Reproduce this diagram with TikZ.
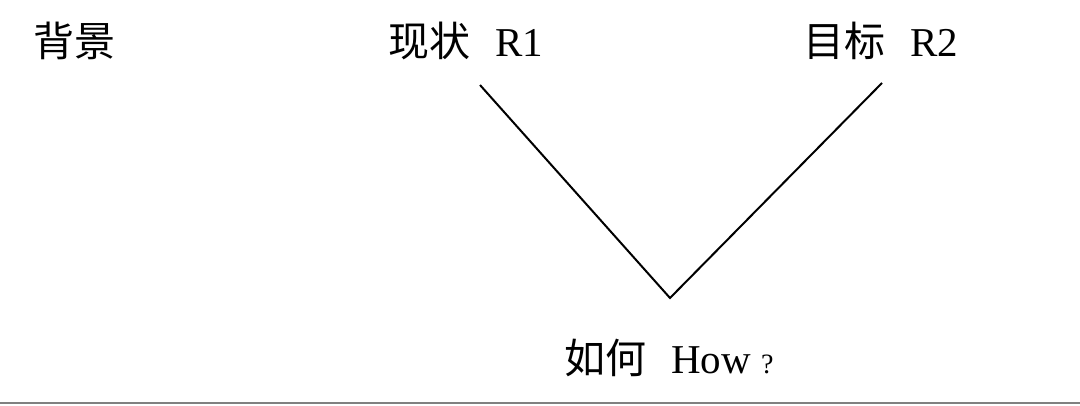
\documentclass[tikz,border=0pt]{standalone}
\usepackage{fontspec}
\setmainfont{Liberation Serif}
\newfontfamily\cjk{Noto Sans CJK SC}
\begin{document}
\begin{tikzpicture}[x=1pt, y=1pt, auto]

  % frame of the picture
  \useasboundingbox (0,0) rectangle (1080,405);
  \tikzset{txt/.style={inner sep=0pt, font=\fontsize{41}{46}\selectfont}}

  % Define the three headings
  \node (bg) [txt] at (75,364) {\cjk 背景};
  \node (r1) [txt] at (466,364) {\cjk 现状\hspace{0.6em}\normalfont R1};
  \node (r2) [txt] at (881,364) {\cjk 目标\hspace{0.6em}\normalfont R2};

  % Corners of the V
  \coordinate (left) at (480,320);
  \coordinate (tip) at (670,107);
  \coordinate (right) at (882,322);

  % The V between current state and goal
  \draw[line width=2pt] (left) -- (tip) -- (right);

  % Question below the tip
  \node (how) [txt] at (669,47) {\cjk 如何\hspace{0.6em}\normalfont How \fontsize{28}{32}\selectfont ?};

  % grey edge line at the bottom
  \coordinate (edgeL) at (0,2);
  \coordinate (edgeR) at (1080,2);
  \draw[gray, line width=2pt] (edgeL) -- (edgeR);

\end{tikzpicture}
\end{document}
